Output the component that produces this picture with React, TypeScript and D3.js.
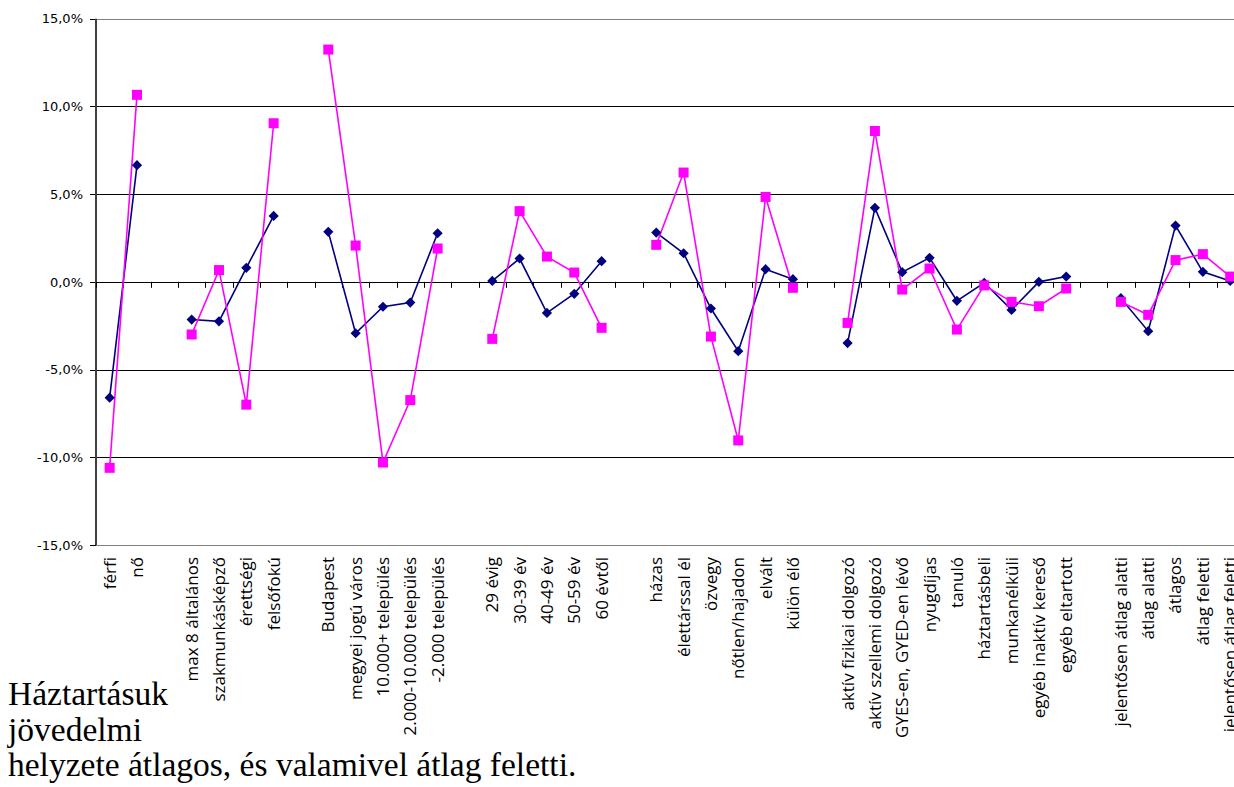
import React from "react";
import * as d3 from "d3";

const categories: string[] = [
  "férfi", "nő", "",
  "max 8 általános", "szakmunkásképző", "érettségi", "felsőfokú", "",
  "Budapest", "megyei jogú város", "10.000+ település", "2.000-10.000 település", "-2.000 település", "",
  "29 évig", "30-39 év", "40-49 év", "50-59 év", "60 évtől", "",
  "házas", "élettárssal él", "özvegy", "nőtlen/hajadon", "elvált", "külön élő", "",
  "aktív fizikai dolgozó", "aktív szellemi dolgozó", "GYES-en, GYED-en lévő", "nyugdíjas", "tanuló",
  "háztartásbeli", "munkanélküli", "egyéb inaktív kereső", "egyéb eltartott", "",
  "jelentősen átlag alatti", "átlag alatti", "átlagos", "átlag feletti", "jelentősen átlag feletti",
];

const navySeries: (number | null)[] = [
  -6.6, 6.65, null,
  -2.15, -2.25, 0.8, 3.76, null,
  2.85, -2.93, -1.42, -1.18, 2.77, null,
  0.05, 1.33, -1.77, -0.68, 1.18, null,
  2.81, 1.63, -1.52, -3.95, 0.72, 0.15, null,
  -3.49, 4.22, 0.55, 1.37, -1.08, -0.05, -1.6, 0.0, 0.3, null,
  -0.93, -2.81, 3.21, 0.57, 0.05,
];

const pinkSeries: (number | null)[] = [
  -10.6, 10.66, null,
  -3.0, 0.67, -7.0, 9.04, null,
  13.24, 2.07, -10.3, -6.74, 1.9, null,
  -3.25, 4.03, 1.44, 0.53, -2.62, null,
  2.11, 6.23, -3.12, -9.04, 4.84, -0.34, null,
  -2.34, 8.6, -0.44, 0.76, -2.72, -0.2, -1.14, -1.39, -0.38, null,
  -1.14, -1.88, 1.24, 1.58, 0.3,
];

const yTicks: number[] = [-15, -10, -5, 0, 5, 10, 15];

const captionLines: string[] = ["Háztartásuk", "jövedelmi", "helyzete átlagos, és valamivel átlag feletti."];

const W = 1234;
const H = 787;
const left = 96;
const band = 27.33;
const top = 18.7;
const bottom = 545;

export default function App() {
  const idx = categories.map((_, i) => i);
  const x = d3.scaleBand<number>().domain(idx).range([left, left + band * categories.length]).padding(0);
  const y = d3.scaleLinear().domain([-15, 15]).range([bottom, top]);
  const cx = (i: number) => (x(i) as number) + x.bandwidth() / 2;

  const lineGen = d3
    .line<number | null>()
    .defined((d) => d !== null)
    .x((_, i) => cx(i))
    .y((d) => y(d as number));

  const fmt = (v: number) => v.toFixed(1).replace(".", ",") + "%";
  const diamond = d3.symbol(d3.symbolSquare, 52)();
  const y0 = y(0);

  return (
    <svg width={W} height={H} style={{ position: "absolute", left: 0, top: 0 }}>
      <rect width={W} height={H} fill="#fff" />
      {yTicks.map((t) => (
        <g key={t}>
          <line x1={left} x2={W} y1={Math.round(y(t)) + 0.5} y2={Math.round(y(t)) + 0.5} stroke={t === 15 || t === -15 ? "#808080" : "#000"} strokeWidth={1} />
          <line x1={left - 6} x2={left} y1={Math.round(y(t)) + 0.5} y2={Math.round(y(t)) + 0.5} stroke="#000" />
          <text x={83} y={y(t)} dy="0.36em" textAnchor="end" fontFamily="DejaVu Sans" fontSize={13} fill="#000">
            {fmt(t)}
          </text>
        </g>
      ))}
      <line x1={left} x2={left} y1={top} y2={bottom} stroke="#404040" strokeWidth={2} />
      {categories.map((_, i) => (
        <line key={"t" + i} x1={Math.round((x(i) as number)) + 0.5} x2={Math.round((x(i) as number)) + 0.5} y1={y0} y2={y0 + 6} stroke="#000" />
      ))}
      <path d={lineGen(navySeries) || ""} fill="none" stroke="#000080" strokeWidth={1.6} />
      <path d={lineGen(pinkSeries) || ""} fill="none" stroke="#FF00FF" strokeWidth={1.6} />
      {navySeries.map((v, i) =>
        v === null ? null : (
          <path key={"n" + i} d={diamond || ""} transform={`translate(${cx(i)},${y(v)}) rotate(45)`} fill="#000080" />
        )
      )}
      {pinkSeries.map((v, i) =>
        v === null ? null : (
          <rect key={"p" + i} x={cx(i) - 5} y={y(v) - 5} width={10} height={10} fill="#FF00FF" />
        )
      )}
      {categories.map((c, i) =>
        c ? (
          <text
            key={"l" + i}
            transform={`translate(${cx(i)},557) rotate(-90)`}
            textAnchor="end"
            dy="0.35em"
            fontFamily="Open Sans"
            fontSize={17}
            fill="#000"
          >
            {c}
          </text>
        ) : null
      )}
      {captionLines.map((s, i) => (
        <text key={"c" + i} x={8} y={705 + i * 35.5} fontFamily="Liberation Serif" fontSize={33.5} fill="#000">
          {s}
        </text>
      ))}
    </svg>
  );
}
